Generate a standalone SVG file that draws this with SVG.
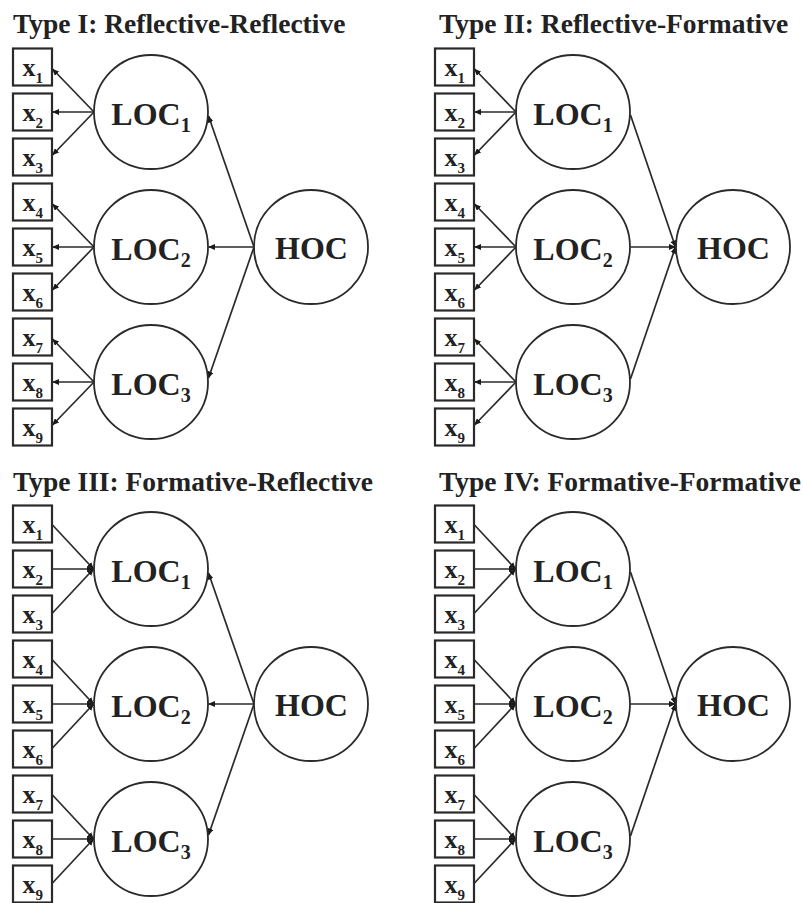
<svg xmlns="http://www.w3.org/2000/svg" width="803" height="903" viewBox="0 0 803 903">
<style>
  .bg{fill:#ffffff}
  .title{font-family:"Liberation Serif","Times New Roman",serif;font-weight:bold;font-size:27.5px;fill:#222}
  .box{fill:#fff;stroke:#2a2a2a;stroke-width:2.2}
  .circ{fill:#fff;stroke:#2a2a2a;stroke-width:1.8}
  .xl{font-family:"Liberation Serif","Times New Roman",serif;font-weight:bold;font-size:26px;fill:#222}
  .xs{font-size:15px}
  .lab{font-family:"Liberation Serif","Times New Roman",serif;font-weight:bold;font-size:32px;fill:#222}
  .ls{font-size:20px}
  .con line{stroke:#2a2a2a;stroke-width:1.7;fill:none;marker-end:url(#ah)}
</style>
<defs>
  <marker id="ah" markerWidth="7" markerHeight="6" refX="6.5" refY="3" orient="auto" markerUnits="userSpaceOnUse">
    <path d="M0,0 L7,3 L0,6 z" fill="#1a1a1a"/>
  </marker>
</defs>
<rect class="bg" x="0" y="0" width="803" height="903"/>

<!-- Panel I -->
<g id="panel1">
  <text class="title" x="13" y="33">Type I: Reflective-Reflective</text>
  <g id="p1-con" class="con">
    <line x1="94" y1="112" x2="52.5" y2="69"/>
    <line x1="94" y1="112" x2="52.5" y2="112"/>
    <line x1="94" y1="112" x2="52.5" y2="155"/>
    <line x1="94" y1="247" x2="52.5" y2="204"/>
    <line x1="94" y1="247" x2="52.5" y2="247"/>
    <line x1="94" y1="247" x2="52.5" y2="290"/>
    <line x1="94" y1="382" x2="52.5" y2="339"/>
    <line x1="94" y1="382" x2="52.5" y2="382"/>
    <line x1="94" y1="382" x2="52.5" y2="425"/>
    <line x1="254" y1="247" x2="208.5" y2="116"/>
    <line x1="254" y1="247" x2="208.5" y2="247"/>
    <line x1="254" y1="247" x2="208.5" y2="378"/>
  </g>
  <g id="p1-x1"><rect class="box" x="13" y="48.5" width="39" height="37"/><text class="xl" x="22.5" y="75.5">x<tspan class="xs" dy="7">1</tspan></text></g>
  <g id="p1-x2"><rect class="box" x="13" y="93.5" width="39" height="37"/><text class="xl" x="22.5" y="120.5">x<tspan class="xs" dy="7">2</tspan></text></g>
  <g id="p1-x3"><rect class="box" x="13" y="138.5" width="39" height="37"/><text class="xl" x="22.5" y="165.5">x<tspan class="xs" dy="7">3</tspan></text></g>
  <g id="p1-x4"><rect class="box" x="13" y="183.5" width="39" height="37"/><text class="xl" x="22.5" y="210.5">x<tspan class="xs" dy="7">4</tspan></text></g>
  <g id="p1-x5"><rect class="box" x="13" y="228.5" width="39" height="37"/><text class="xl" x="22.5" y="255.5">x<tspan class="xs" dy="7">5</tspan></text></g>
  <g id="p1-x6"><rect class="box" x="13" y="273.5" width="39" height="37"/><text class="xl" x="22.5" y="300.5">x<tspan class="xs" dy="7">6</tspan></text></g>
  <g id="p1-x7"><rect class="box" x="13" y="318.5" width="39" height="37"/><text class="xl" x="22.5" y="345.5">x<tspan class="xs" dy="7">7</tspan></text></g>
  <g id="p1-x8"><rect class="box" x="13" y="363.5" width="39" height="37"/><text class="xl" x="22.5" y="390.5">x<tspan class="xs" dy="7">8</tspan></text></g>
  <g id="p1-x9"><rect class="box" x="13" y="408.5" width="39" height="37"/><text class="xl" x="22.5" y="435.5">x<tspan class="xs" dy="7">9</tspan></text></g>
  <g id="p1-loc1"><circle class="circ" cx="151" cy="112" r="57"/><text class="lab" x="151" y="125" text-anchor="middle">LOC<tspan class="ls" dy="7">1</tspan></text></g>
  <g id="p1-loc2"><circle class="circ" cx="151" cy="247" r="57"/><text class="lab" x="151" y="260" text-anchor="middle">LOC<tspan class="ls" dy="7">2</tspan></text></g>
  <g id="p1-loc3"><circle class="circ" cx="151" cy="382" r="57"/><text class="lab" x="151" y="395" text-anchor="middle">LOC<tspan class="ls" dy="7">3</tspan></text></g>
  <g id="p1-hoc"><circle class="circ" cx="311" cy="247" r="57"/><text class="lab" x="311.5" y="259" text-anchor="middle">HOC</text></g>
</g>

<!-- Panel II -->
<g id="panel2" transform="translate(422,0)">
  <text class="title" x="17" y="33">Type II: Reflective-Formative</text>
  <g id="p2-con" class="con">
    <line x1="94" y1="112" x2="52.5" y2="69"/>
    <line x1="94" y1="112" x2="52.5" y2="112"/>
    <line x1="94" y1="112" x2="52.5" y2="155"/>
    <line x1="94" y1="247" x2="52.5" y2="204"/>
    <line x1="94" y1="247" x2="52.5" y2="247"/>
    <line x1="94" y1="247" x2="52.5" y2="290"/>
    <line x1="94" y1="382" x2="52.5" y2="339"/>
    <line x1="94" y1="382" x2="52.5" y2="382"/>
    <line x1="94" y1="382" x2="52.5" y2="425"/>
    <line x1="208.5" y1="115" x2="253.5" y2="247"/>
    <line x1="208.5" y1="247" x2="253.5" y2="247"/>
    <line x1="208.5" y1="379" x2="253.5" y2="247"/>
  </g>
  <g id="p2-x1"><rect class="box" x="13" y="48.5" width="39" height="37"/><text class="xl" x="22.5" y="75.5">x<tspan class="xs" dy="7">1</tspan></text></g>
  <g id="p2-x2"><rect class="box" x="13" y="93.5" width="39" height="37"/><text class="xl" x="22.5" y="120.5">x<tspan class="xs" dy="7">2</tspan></text></g>
  <g id="p2-x3"><rect class="box" x="13" y="138.5" width="39" height="37"/><text class="xl" x="22.5" y="165.5">x<tspan class="xs" dy="7">3</tspan></text></g>
  <g id="p2-x4"><rect class="box" x="13" y="183.5" width="39" height="37"/><text class="xl" x="22.5" y="210.5">x<tspan class="xs" dy="7">4</tspan></text></g>
  <g id="p2-x5"><rect class="box" x="13" y="228.5" width="39" height="37"/><text class="xl" x="22.5" y="255.5">x<tspan class="xs" dy="7">5</tspan></text></g>
  <g id="p2-x6"><rect class="box" x="13" y="273.5" width="39" height="37"/><text class="xl" x="22.5" y="300.5">x<tspan class="xs" dy="7">6</tspan></text></g>
  <g id="p2-x7"><rect class="box" x="13" y="318.5" width="39" height="37"/><text class="xl" x="22.5" y="345.5">x<tspan class="xs" dy="7">7</tspan></text></g>
  <g id="p2-x8"><rect class="box" x="13" y="363.5" width="39" height="37"/><text class="xl" x="22.5" y="390.5">x<tspan class="xs" dy="7">8</tspan></text></g>
  <g id="p2-x9"><rect class="box" x="13" y="408.5" width="39" height="37"/><text class="xl" x="22.5" y="435.5">x<tspan class="xs" dy="7">9</tspan></text></g>
  <g id="p2-loc1"><circle class="circ" cx="151" cy="112" r="57"/><text class="lab" x="151" y="125" text-anchor="middle">LOC<tspan class="ls" dy="7">1</tspan></text></g>
  <g id="p2-loc2"><circle class="circ" cx="151" cy="247" r="57"/><text class="lab" x="151" y="260" text-anchor="middle">LOC<tspan class="ls" dy="7">2</tspan></text></g>
  <g id="p2-loc3"><circle class="circ" cx="151" cy="382" r="57"/><text class="lab" x="151" y="395" text-anchor="middle">LOC<tspan class="ls" dy="7">3</tspan></text></g>
  <g id="p2-hoc"><circle class="circ" cx="311" cy="247" r="57"/><text class="lab" x="311.5" y="259" text-anchor="middle">HOC</text></g>
</g>

<!-- Panel III -->
<g id="panel3" transform="translate(0,457)">
  <text class="title" x="13" y="34">Type III: Formative-Reflective</text>
  <g id="p3-con" class="con">
    <line x1="52.5" y1="68" x2="93.5" y2="112"/>
    <line x1="52.5" y1="112" x2="93.5" y2="112"/>
    <line x1="52.5" y1="156" x2="93.5" y2="112"/>
    <line x1="52.5" y1="203" x2="93.5" y2="247"/>
    <line x1="52.5" y1="247" x2="93.5" y2="247"/>
    <line x1="52.5" y1="291" x2="93.5" y2="247"/>
    <line x1="52.5" y1="338" x2="93.5" y2="382"/>
    <line x1="52.5" y1="382" x2="93.5" y2="382"/>
    <line x1="52.5" y1="426" x2="93.5" y2="382"/>
    <line x1="254" y1="247" x2="208.5" y2="116"/>
    <line x1="254" y1="247" x2="208.5" y2="247"/>
    <line x1="254" y1="247" x2="208.5" y2="378"/>
  </g>
  <g id="p3-x1"><rect class="box" x="13" y="48.5" width="39" height="37"/><text class="xl" x="22.5" y="75.5">x<tspan class="xs" dy="7">1</tspan></text></g>
  <g id="p3-x2"><rect class="box" x="13" y="93.5" width="39" height="37"/><text class="xl" x="22.5" y="120.5">x<tspan class="xs" dy="7">2</tspan></text></g>
  <g id="p3-x3"><rect class="box" x="13" y="138.5" width="39" height="37"/><text class="xl" x="22.5" y="165.5">x<tspan class="xs" dy="7">3</tspan></text></g>
  <g id="p3-x4"><rect class="box" x="13" y="183.5" width="39" height="37"/><text class="xl" x="22.5" y="210.5">x<tspan class="xs" dy="7">4</tspan></text></g>
  <g id="p3-x5"><rect class="box" x="13" y="228.5" width="39" height="37"/><text class="xl" x="22.5" y="255.5">x<tspan class="xs" dy="7">5</tspan></text></g>
  <g id="p3-x6"><rect class="box" x="13" y="273.5" width="39" height="37"/><text class="xl" x="22.5" y="300.5">x<tspan class="xs" dy="7">6</tspan></text></g>
  <g id="p3-x7"><rect class="box" x="13" y="318.5" width="39" height="37"/><text class="xl" x="22.5" y="345.5">x<tspan class="xs" dy="7">7</tspan></text></g>
  <g id="p3-x8"><rect class="box" x="13" y="363.5" width="39" height="37"/><text class="xl" x="22.5" y="390.5">x<tspan class="xs" dy="7">8</tspan></text></g>
  <g id="p3-x9"><rect class="box" x="13" y="408.5" width="39" height="37"/><text class="xl" x="22.5" y="435.5">x<tspan class="xs" dy="7">9</tspan></text></g>
  <g id="p3-loc1"><circle class="circ" cx="151" cy="112" r="57"/><text class="lab" x="151" y="125" text-anchor="middle">LOC<tspan class="ls" dy="7">1</tspan></text></g>
  <g id="p3-loc2"><circle class="circ" cx="151" cy="247" r="57"/><text class="lab" x="151" y="260" text-anchor="middle">LOC<tspan class="ls" dy="7">2</tspan></text></g>
  <g id="p3-loc3"><circle class="circ" cx="151" cy="382" r="57"/><text class="lab" x="151" y="395" text-anchor="middle">LOC<tspan class="ls" dy="7">3</tspan></text></g>
  <g id="p3-hoc"><circle class="circ" cx="311" cy="247" r="57"/><text class="lab" x="311.5" y="259" text-anchor="middle">HOC</text></g>
</g>

<!-- Panel IV -->
<g id="panel4" transform="translate(422,457)">
  <text class="title" x="17" y="34">Type IV: Formative-Formative</text>
  <g id="p4-con" class="con">
    <line x1="52.5" y1="68" x2="93.5" y2="112"/>
    <line x1="52.5" y1="112" x2="93.5" y2="112"/>
    <line x1="52.5" y1="156" x2="93.5" y2="112"/>
    <line x1="52.5" y1="203" x2="93.5" y2="247"/>
    <line x1="52.5" y1="247" x2="93.5" y2="247"/>
    <line x1="52.5" y1="291" x2="93.5" y2="247"/>
    <line x1="52.5" y1="338" x2="93.5" y2="382"/>
    <line x1="52.5" y1="382" x2="93.5" y2="382"/>
    <line x1="52.5" y1="426" x2="93.5" y2="382"/>
    <line x1="208.5" y1="115" x2="253.5" y2="247"/>
    <line x1="208.5" y1="247" x2="253.5" y2="247"/>
    <line x1="208.5" y1="379" x2="253.5" y2="247"/>
  </g>
  <g id="p4-x1"><rect class="box" x="13" y="48.5" width="39" height="37"/><text class="xl" x="22.5" y="75.5">x<tspan class="xs" dy="7">1</tspan></text></g>
  <g id="p4-x2"><rect class="box" x="13" y="93.5" width="39" height="37"/><text class="xl" x="22.5" y="120.5">x<tspan class="xs" dy="7">2</tspan></text></g>
  <g id="p4-x3"><rect class="box" x="13" y="138.5" width="39" height="37"/><text class="xl" x="22.5" y="165.5">x<tspan class="xs" dy="7">3</tspan></text></g>
  <g id="p4-x4"><rect class="box" x="13" y="183.5" width="39" height="37"/><text class="xl" x="22.5" y="210.5">x<tspan class="xs" dy="7">4</tspan></text></g>
  <g id="p4-x5"><rect class="box" x="13" y="228.5" width="39" height="37"/><text class="xl" x="22.5" y="255.5">x<tspan class="xs" dy="7">5</tspan></text></g>
  <g id="p4-x6"><rect class="box" x="13" y="273.5" width="39" height="37"/><text class="xl" x="22.5" y="300.5">x<tspan class="xs" dy="7">6</tspan></text></g>
  <g id="p4-x7"><rect class="box" x="13" y="318.5" width="39" height="37"/><text class="xl" x="22.5" y="345.5">x<tspan class="xs" dy="7">7</tspan></text></g>
  <g id="p4-x8"><rect class="box" x="13" y="363.5" width="39" height="37"/><text class="xl" x="22.5" y="390.5">x<tspan class="xs" dy="7">8</tspan></text></g>
  <g id="p4-x9"><rect class="box" x="13" y="408.5" width="39" height="37"/><text class="xl" x="22.5" y="435.5">x<tspan class="xs" dy="7">9</tspan></text></g>
  <g id="p4-loc1"><circle class="circ" cx="151" cy="112" r="57"/><text class="lab" x="151" y="125" text-anchor="middle">LOC<tspan class="ls" dy="7">1</tspan></text></g>
  <g id="p4-loc2"><circle class="circ" cx="151" cy="247" r="57"/><text class="lab" x="151" y="260" text-anchor="middle">LOC<tspan class="ls" dy="7">2</tspan></text></g>
  <g id="p4-loc3"><circle class="circ" cx="151" cy="382" r="57"/><text class="lab" x="151" y="395" text-anchor="middle">LOC<tspan class="ls" dy="7">3</tspan></text></g>
  <g id="p4-hoc"><circle class="circ" cx="311" cy="247" r="57"/><text class="lab" x="311.5" y="259" text-anchor="middle">HOC</text></g>
</g>
</svg>
